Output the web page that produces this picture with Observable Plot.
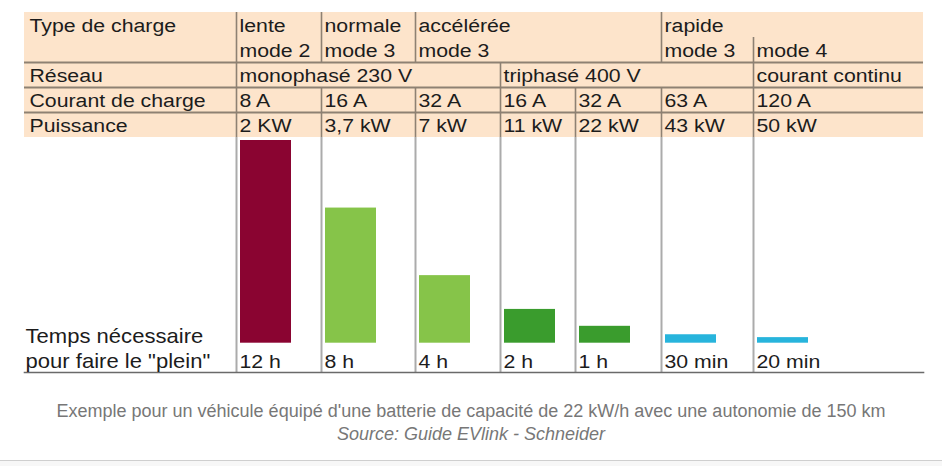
<!DOCTYPE html>
<html>
<head>
<meta charset="utf-8">
<script src="https://cdn.jsdelivr.net/npm/d3@7"></script>
<script src="https://cdn.jsdelivr.net/npm/@observablehq/plot@0.6"></script>
<style>
  html, body { margin: 0; padding: 0; background: #fff; }
  #wrap { width: 942px; position: relative; }
  #wrap svg { display: block; }
  .cap { width: 942px; text-align: center; font-family: "Liberation Sans", Arial, sans-serif;
         font-size: 18px; line-height: 23px; color: #777; padding-top: 20px; height: 60px; }
  .cap .src { font-style: italic; }
  .foot { width: 942px; border-top: 1.5px solid #cfcfcf; background: #f7f7f7; height: 8px; }
</style>
</head>
<body>
<div id="wrap"></div>
<script>
// ---------- data ----------
const typeCharge = ["lente", "normale", "accélérée", "accélérée", "accélérée", "rapide", "rapide"];
const modes      = ["mode 2", "mode 3", "mode 3", "mode 3", "mode 3", "mode 3", "mode 4"];
const reseau     = ["monophasé 230 V", "monophasé 230 V", "monophasé 230 V", "triphasé 400 V", "triphasé 400 V", "triphasé 400 V", "courant continu"];
const courant    = ["8 A", "16 A", "32 A", "16 A", "32 A", "63 A", "120 A"];
const puissance  = ["2 KW", "3,7 kW", "7 kW", "11 kW", "22 kW", "43 kW", "50 kW"];
const tempsLabel = ["12 h", "8 h", "4 h", "2 h", "1 h", "30 min", "20 min"];
const tempsHeures = [12, 8, 4, 2, 1, 0.5, 0.33];
const groupe     = ["lente", "monophasé", "monophasé", "triphasé", "triphasé", "rapide", "rapide"];
const rowLabels  = ["Type de charge", "Réseau", "Courant de charge", "Puissance"];
const tempsTitre = "Temps nécessaire\npour faire le \"plein\"";

// ---------- layout / style ----------
const tableLeft = 24, tableRight = 923;
const colEdges = [236, 321, 415, 500, 575, 661, 753, tableRight];
const barInset = 4, barWidth = 51;
const peach = "#fde4cb";
const gridTable = "#8e8173";
const gridBars = "#ababab";
const ink = "#1c1c1c";
const groupColors = {domain: ["lente", "monophasé", "triphasé", "rapide"],
                     range: ["#8a0431", "#86c449", "#3a9c2d", "#27b4dc"]};
const font = "'Liberation Sans', Arial, sans-serif";
const fontSize = 19, stretchX = 1.12;
const X = {type: "linear", domain: [0, 942], range: [0, 942], axis: null};

// ---------- derived structures ----------
function spans(keyFn) {
  const out = [];
  for (let i = 0; i < 7; i++) {
    const k = keyFn(i);
    if (out.length && out[out.length - 1].key === k) out[out.length - 1].end = i + 1;
    else out.push({key: k, start: i, end: i + 1});
  }
  return out;
}
const typeSpans = spans(i => typeCharge[i]);
const modeSpans = spans(i => typeCharge[i] + "|" + modes[i]);
const resSpans  = spans(i => reseau[i]);
const colSpans  = spans(i => i);

// table lines: y in "line" units (0..5)
const cells = [];
const vsegs = [];
function addRow(spanList, textFn, y0, y1) {
  for (const s of spanList) {
    cells.push({x: colEdges[s.start], y: y1, text: textFn(s.start)});
    vsegs.push({x: colEdges[s.start], y1: y0, y2: y1});
  }
}
addRow(typeSpans, i => typeCharge[i], 0, 1);
addRow(modeSpans, i => modes[i], 1, 2);
addRow(resSpans, i => reseau[i], 2, 3);
addRow(colSpans, i => courant[i], 3, 4);
addRow(colSpans, i => puissance[i], 4, 5);
const labelCells = rowLabels.map((t, j) => ({x: tableLeft, y: [1, 3, 4, 5][j], text: t}));

const bars = tempsHeures.map((h, i) => ({
  x1: colEdges[i] + barInset, x2: colEdges[i] + barInset + barWidth,
  h, g: groupe[i], label: tempsLabel[i], edge: colEdges[i]
}));

function stretchText(svg) {
  svg.querySelectorAll("text").forEach(t => {
    const tr = t.getAttribute("transform");
    if (tr) t.setAttribute("transform", tr + ` scale(${stretchX},1)`);
    else {
      const x = t.getAttribute("x") || 0, y = t.getAttribute("y") || 0;
      t.removeAttribute("x"); t.removeAttribute("y");
      t.setAttribute("transform", `translate(${x},${y}) scale(${stretchX},1)`);
    }
  });
  return svg;
}

const style = {fontFamily: font, fontSize: fontSize + "px", background: "transparent", overflow: "visible"};

const table = Plot.plot({
  width: 942, height: 137, margin: 0,
  x: X,
  y: {domain: [0, 5], range: [12, 137], axis: null},
  style,
  marks: [
    Plot.rect([0], {x1: tableLeft, x2: tableRight, y1: 0, y2: 5, fill: peach}),
    Plot.ruleY([2, 3, 4], {x1: tableLeft, x2: tableRight, stroke: gridTable, strokeWidth: 2}),
    Plot.ruleX(vsegs, {x: "x", y1: "y1", y2: "y2", stroke: gridTable, strokeWidth: 1.6}),
    Plot.text(cells, {x: "x", y: "y", text: "text", textAnchor: "start", lineAnchor: "bottom", dx: 3, dy: -5.5, fill: ink}),
    Plot.text(labelCells, {x: "x", y: "y", text: "text", textAnchor: "start", lineAnchor: "bottom", dx: 5, dy: -5.5, fill: ink})
  ]
});

const chart = Plot.plot({
  width: 942, height: 243, marginTop: 0, marginBottom: 8,
  marginLeft: tableLeft, marginRight: 942 - tableRight,
  x: X,
  y: {domain: [0, 12], range: [205.7, 3], axis: null},
  color: {type: "ordinal", ...groupColors},
  style,
  marks: [
    Plot.ruleX(colEdges.slice(0, 7), {stroke: gridBars, strokeWidth: 2}),
    Plot.rectY(bars, {x1: "x1", x2: "x2", y1: 0, y2: "h", fill: "g"}),
    Plot.frame({anchor: "bottom", stroke: "#6a6a6a", strokeWidth: 1.6}),
    Plot.text(bars, {x: "edge", text: "label", frameAnchor: "bottom", textAnchor: "start", lineAnchor: "bottom", dx: 3, dy: -5, fill: ink}),
    Plot.text([tempsTitre], {x: tableLeft, text: d => d, frameAnchor: "bottom", textAnchor: "start", lineAnchor: "bottom", lineHeight: 1.25, fontSize: 19.7, dx: 1, dy: -5, fill: ink})
  ]
});

const wrap = document.getElementById("wrap");
wrap.append(stretchText(table), stretchText(chart));
const cap = document.createElement("div");
cap.className = "cap";
cap.innerHTML = "Exemple pour un véhicule équipé d'une batterie de capacité de 22 kW/h avec une autonomie de 150 km<br><span class='src'>Source: Guide EVlink - Schneider</span>";
wrap.append(cap);
const foot = document.createElement("div");
foot.className = "foot";
wrap.append(foot);
</script>
</body>
</html>
